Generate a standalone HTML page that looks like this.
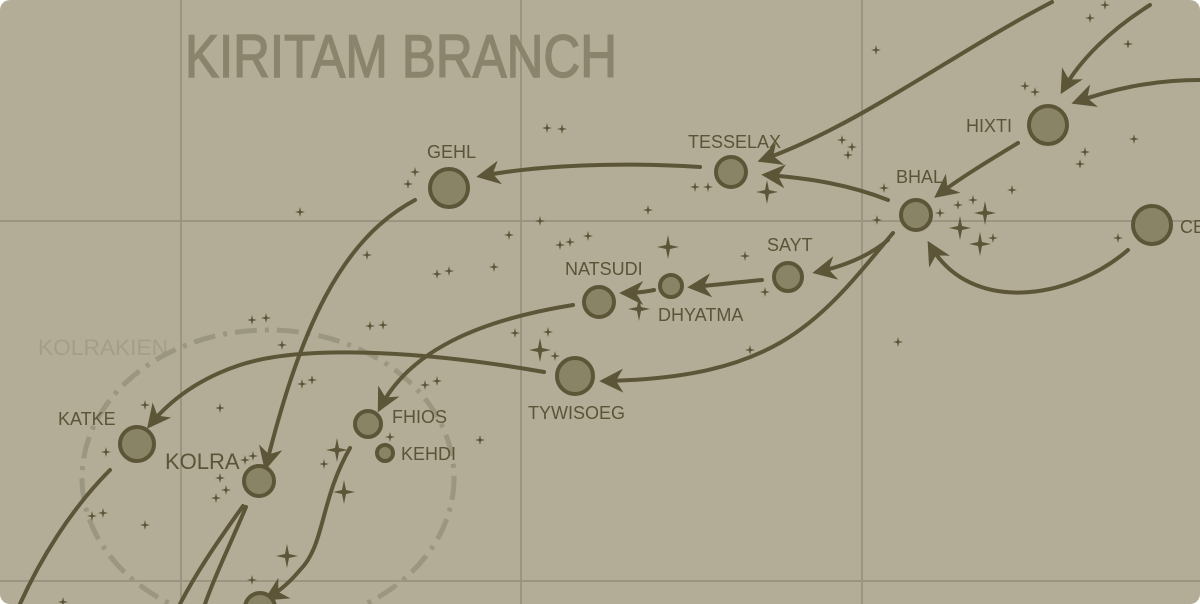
<!DOCTYPE html>
<html><head><meta charset="utf-8"><style>
html,body{margin:0;padding:0;background:#fff;}
svg{display:block;}
text{font-family:"Liberation Sans Narrow","Liberation Sans",sans-serif;fill:#5a5438;}
</style></head><body>
<svg width="1200" height="604" viewBox="0 0 1200 604" xmlns="http://www.w3.org/2000/svg">
<defs>
<marker id="a" viewBox="0 0 10 10" refX="8" refY="5" markerWidth="6" markerHeight="6" orient="auto-start-reverse" markerUnits="strokeWidth">
<path d="M0,0 L10,5 L0,10 L3,5 Z" fill="#5c5538"/></marker>
<path id="s" d="M0,-5 L1,-1 L5,0 L1,1 L0,5 L-1,1 L-5,0 L-1,-1Z" fill="#5c5538"/>
<path id="S" d="M0,-12 L2,-2 L11,0 L2,2 L0,12 L-2,2 L-11,0 L-2,-2Z" fill="#5c5538"/>
</defs>
<rect x="0" y="0" width="1200" height="604" rx="10" fill="#b3ad97"/>
<g stroke="#9a9580" stroke-width="2">
<line x1="181" y1="0" x2="181" y2="604"/><line x1="521" y1="0" x2="521" y2="604"/><line x1="862" y1="0" x2="862" y2="604"/>
<line x1="0" y1="221" x2="1200" y2="221"/><line x1="0" y1="581" x2="1200" y2="581"/>
</g>
<text x="185" y="77" font-size="60" style="fill:#8a846c;stroke:#8a846c;stroke-width:1.5" textLength="432" lengthAdjust="spacingAndGlyphs">KIRITAM BRANCH</text>
<text x="38" y="355" font-size="22" style="fill:#a39e88" textLength="130" lengthAdjust="spacingAndGlyphs">KOLRAKIEN</text>
<ellipse cx="268" cy="478" rx="186" ry="148" fill="none" stroke="#9b9680" stroke-width="5" stroke-dasharray="22 8 4 8"/>
<g fill="none" stroke="#5c5538" stroke-width="4" stroke-linecap="round">
<path d="M1052,2 C950,55 860,125 762,160" marker-end="url(#a)"/>
<path d="M1150,5 C1110,30 1080,60 1063,90" marker-end="url(#a)"/>
<path d="M1200,80 C1150,80 1110,90 1076,102" marker-end="url(#a)"/>
<path d="M1018,143 C990,160 960,178 938,195" marker-end="url(#a)"/>
<path d="M888,200 C850,185 810,178 766,175" marker-end="url(#a)"/>
<path d="M700,167 C620,162 540,165 481,176" marker-end="url(#a)"/>
<path d="M1128,250 C1070,300 970,315 930,245" marker-end="url(#a)"/>
<path d="M888,240 C870,255 845,266 817,272" marker-end="url(#a)"/>
<path d="M893,233 C820,320 780,378 604,381" marker-end="url(#a)"/>
<path d="M762,280 C740,282 715,285 692,287" marker-end="url(#a)"/>
<path d="M654,290 C645,292 635,293 624,293" marker-end="url(#a)"/>
<path d="M573,305 C480,320 410,350 380,408" marker-end="url(#a)"/>
<path d="M544,372 C420,350 300,345 240,365 C200,378 170,400 150,425" marker-end="url(#a)"/>
<path d="M415,200 C340,240 300,330 266,466" marker-end="url(#a)"/>
<path d="M110,470 C70,510 40,560 20,604"/>
<path d="M243,506 C215,545 195,575 180,604"/>
<path d="M246,507 C230,545 215,575 205,604"/>
<path d="M350,448 C320,500 325,545 300,570 C290,582 278,592 268,598" marker-end="url(#a)"/>
</g>
<g fill="#8a8466" stroke="#5c5538" stroke-width="4">
<circle cx="449" cy="188" r="19"/><circle cx="731" cy="172" r="15"/><circle cx="1048" cy="125" r="19"/>
<circle cx="916" cy="215" r="15"/><circle cx="1152" cy="225" r="19"/><circle cx="788" cy="277" r="14"/>
<circle cx="671" cy="286" r="11"/><circle cx="599" cy="302" r="15"/><circle cx="575" cy="376" r="18"/>
<circle cx="368" cy="424" r="13"/><circle cx="385" cy="453" r="8"/><circle cx="137" cy="444" r="17"/>
<circle cx="259" cy="481" r="15"/><circle cx="260" cy="608" r="15"/>
</g>
<g font-size="18">
<text x="427" y="158">GEHL</text><text x="688" y="148">TESSELAX</text><text x="966" y="132">HIXTI</text>
<text x="896" y="183">BHAL</text><text x="1180" y="233">CE</text><text x="767" y="251">SAYT</text>
<text x="565" y="275">NATSUDI</text><text x="658" y="321">DHYATMA</text><text x="528" y="419">TYWISOEG</text>
<text x="392" y="423">FHIOS</text><text x="401" y="460">KEHDI</text><text x="58" y="425">KATKE</text>
<text x="165" y="469" font-size="22">KOLRA</text>
</g>
<g>
<use href="#s" x="547" y="128"/><use href="#s" x="562" y="129"/><use href="#s" x="876" y="50"/><use href="#s" x="1090" y="18"/>
<use href="#s" x="1105" y="5"/><use href="#s" x="1128" y="44"/><use href="#s" x="1025" y="86"/><use href="#s" x="1035" y="92"/>
<use href="#s" x="1134" y="139"/><use href="#s" x="1085" y="152"/><use href="#s" x="1080" y="164"/><use href="#s" x="842" y="140"/>
<use href="#s" x="852" y="147"/><use href="#s" x="848" y="155"/><use href="#s" x="695" y="187"/><use href="#s" x="708" y="187"/>
<use href="#S" x="767" y="192"/><use href="#s" x="884" y="188"/><use href="#s" x="958" y="205"/><use href="#s" x="973" y="200"/>
<use href="#S" x="985" y="213"/><use href="#S" x="960" y="228"/><use href="#S" x="980" y="244"/><use href="#s" x="993" y="238"/>
<use href="#s" x="1012" y="190"/><use href="#s" x="940" y="213"/><use href="#s" x="1118" y="238"/><use href="#s" x="877" y="220"/>
<use href="#s" x="415" y="172"/><use href="#s" x="408" y="184"/><use href="#s" x="300" y="212"/><use href="#s" x="540" y="221"/>
<use href="#s" x="509" y="235"/><use href="#s" x="560" y="245"/><use href="#s" x="570" y="242"/><use href="#s" x="588" y="236"/>
<use href="#s" x="648" y="210"/><use href="#S" x="668" y="247"/><use href="#s" x="745" y="256"/><use href="#s" x="765" y="292"/>
<use href="#S" x="639" y="309"/><use href="#s" x="437" y="274"/><use href="#s" x="449" y="271"/><use href="#s" x="494" y="267"/>
<use href="#s" x="367" y="255"/><use href="#s" x="252" y="320"/><use href="#s" x="266" y="318"/><use href="#s" x="282" y="345"/>
<use href="#s" x="370" y="326"/><use href="#s" x="383" y="325"/><use href="#s" x="515" y="333"/><use href="#S" x="540" y="350"/>
<use href="#s" x="548" y="332"/><use href="#s" x="555" y="356"/><use href="#s" x="750" y="350"/><use href="#s" x="898" y="342"/>
<use href="#s" x="302" y="384"/><use href="#s" x="312" y="380"/><use href="#s" x="425" y="385"/><use href="#s" x="437" y="381"/>
<use href="#s" x="220" y="408"/><use href="#s" x="145" y="405"/><use href="#s" x="106" y="452"/><use href="#s" x="480" y="440"/>
<use href="#s" x="390" y="437"/><use href="#S" x="337" y="450"/><use href="#s" x="324" y="464"/><use href="#S" x="344" y="492"/>
<use href="#s" x="245" y="460"/><use href="#s" x="253" y="456"/><use href="#s" x="220" y="478"/><use href="#s" x="226" y="490"/>
<use href="#s" x="216" y="498"/><use href="#s" x="92" y="516"/><use href="#s" x="103" y="513"/><use href="#s" x="145" y="525"/>
<use href="#S" x="287" y="556"/><use href="#s" x="252" y="580"/><use href="#s" x="63" y="602"/>
</g>
</svg>
</body></html>
